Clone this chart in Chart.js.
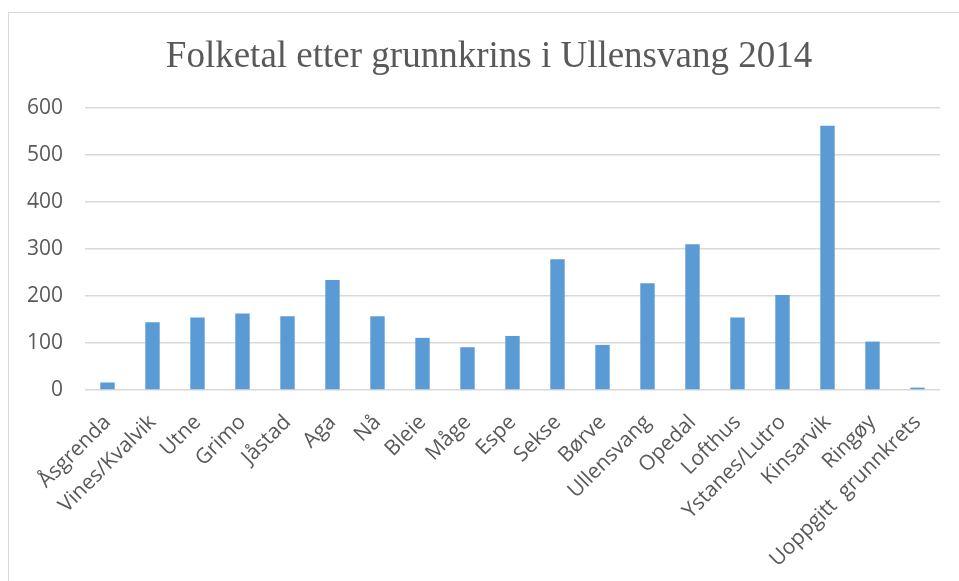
<!DOCTYPE html>
<html>
<head>
<meta charset="utf-8">
<script src="https://cdn.jsdelivr.net/npm/chart.js@4"></script>
<style>
  html, body { margin: 0; padding: 0; background: #fff; overflow: hidden; }
  #wrap { position: relative; width: 959px; height: 581px; }
  #frame { position: absolute; left: 8px; top: 12px; width: 1000px; height: 700px; border: 1px solid #d9d9d9; box-sizing: border-box; }
  canvas { position: absolute; left: 0; top: 0; }
</style>
</head>
<body>
<div id="wrap">
  <div id="frame"></div>
  <canvas id="chart" width="959" height="581"></canvas>
</div>
<script>
const chartTitle = 'Folketal etter grunnkrins i Ullensvang 2014';
const categories = [
  'Åsgrenda', 'Vines/Kvalvik', 'Utne', 'Grimo', 'Jåstad', 'Aga', 'Nå', 'Bleie',
  'Måge', 'Espe', 'Sekse', 'Børve', 'Ullensvang', 'Opedal', 'Lofthus',
  'Ystanes/Lutro', 'Kinsarvik', 'Ringøy', 'Uoppgitt  grunnkrets'
];
const folketal = [16, 144, 154, 163, 157, 234, 157, 111, 91, 115, 278, 96, 227, 310, 154, 202, 562, 103, 5];
const yTicks = [0, 100, 200, 300, 400, 500, 600];

const grey = '#595959';
const labelFont = { family: 'Open Sans', size: 21 };

// title is centred on the frame, not on the plot area
const frameTitle = {
  id: 'frameTitle',
  afterDraw(chart) {
    const c = chart.ctx;
    c.save();
    c.font = '37px "Liberation Serif"';
    c.fillStyle = grey;
    c.textAlign = 'center';
    c.textBaseline = 'alphabetic';
    c.fillText(chartTitle, 489, 67);
    c.restore();
  },
};

const ctx = document.getElementById('chart').getContext('2d');
new Chart(ctx, {
  type: 'bar',
  data: {
    labels: categories,
    datasets: [{
      label: 'Folketal',
      data: folketal,
      backgroundColor: '#5b9bd5',
      barPercentage: 0.32,
      categoryPercentage: 1,
    }],
  },
  options: {
    responsive: false,
    animation: false,
    layout: { padding: { left: 10, right: 19, top: 108, bottom: 0 } },
    plugins: {
      legend: { display: false },
      tooltip: { enabled: false },
      title: { display: false },
    },
    scales: {
      x: {
        grid: { display: false },
        border: { display: false },
        ticks: {
          color: grey,
          font: labelFont,
          autoSkip: false,
          minRotation: 45,
          maxRotation: 45,
          padding: 12,
        },
        afterFit(scale) { scale.height = 191; },
      },
      y: {
        min: 0,
        max: 600,
        border: { display: false },
        grid: { color: '#d9d9d9', lineWidth: 1.5, drawTicks: false },
        afterBuildTicks(scale) { scale.ticks = yTicks.map((v) => ({ value: v })); },
        ticks: { color: grey, font: labelFont, padding: 22 },
        afterFit(scale) { scale.width = 75; },
      },
    },
  },
  plugins: [frameTitle],
});
</script>
</body>
</html>
